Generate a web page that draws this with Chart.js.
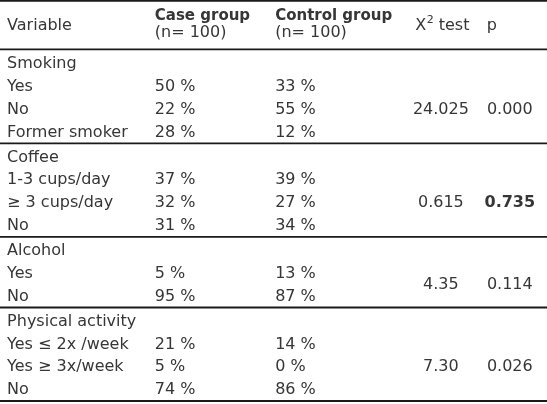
<!DOCTYPE html>
<html>
<head>
<meta charset="utf-8">
<script src="https://cdn.jsdelivr.net/npm/chart.js@4/dist/chart.umd.min.js"></script>
<style>
    html, body { margin: 0; padding: 0; background: #fff; }
    #wrap { width: 547px; height: 404px; }
</style>
</head>
<body>
<div id="wrap"><canvas id="table-chart" width="547" height="404"></canvas></div>
<script>
// ─── Table data ──────────────────────────────────────────────────
const headerVariable = "Variable";
const headerCase = ["Case group", "(n= 100)"];
const headerControl = ["Control group", "(n= 100)"];
const headerChi = ["X", "2", " test"];   // base, superscript, rest
const headerP = "p";

const groupNames = ["Smoking", "Coffee", "Alcohol", "Physical activity"];
const categories = [
    ["Yes", "No", "Former smoker"],
    ["1-3 cups/day", "\u2265 3 cups/day", "No"],
    ["Yes", "No"],
    ["Yes \u2264 2x /week", "Yes \u2265 3x/week", "No"]
];
const caseGroup = [[50, 22, 28], [37, 32, 31], [5, 95], [21, 5, 74]];
const controlGroup = [[33, 55, 12], [39, 27, 34], [13, 87], [14, 0, 86]];
const chiSquare = ["24.025", "0.615", "4.35", "7.30"];
const pValues = ["0.000", "0.735", "0.114", "0.026"];
const pBold = [false, true, false, false];

// ─── Layout (y axis: one text row = one unit) ────────────────────
const ROW_PX = 22.8;
const FIRST_ROW_PX = 64;
const GROUP_GAP = 0.1;
const COL = { variable: 1.3, caseG: 28.3, control: 50.3, chi: 80.6, p: 93.2, chiHead: 75.9, pHead: 89.0 };
const TEXT = "#363636";
const REG = "16px 'DejaVu Sans'";
const BOLD = "bold 15px 'DejaVu Sans'";

// ─── Build cells from the arrays ─────────────────────────────────
const labelCells = [], caseCells = [], controlCells = [], chiCells = [], pCells = [];
const rules = [-2.77, -0.64];
let r = 0;
groupNames.forEach((name, g) => {
    const headY = r + g * GROUP_GAP;
    labelCells.push({ x: COL.variable, y: headY, text: name });
    r++;
    categories[g].forEach((cat, k) => {
        const y = r + g * GROUP_GAP;
        labelCells.push({ x: COL.variable, y, text: cat });
        caseCells.push({ x: COL.caseG, y, text: caseGroup[g][k] + " %" });
        controlCells.push({ x: COL.control, y, text: controlGroup[g][k] + " %" });
        r++;
    });
    const last = r - 1 + g * GROUP_GAP;
    const mid = (headY + 1 + last) / 2;
    chiCells.push({ x: COL.chi, y: mid, text: chiSquare[g] });
    pCells.push({ x: COL.p, y: mid, text: pValues[g], bold: pBold[g] });
    rules.push(last + 0.48);
});

const headerCells = [
    { x: COL.variable, y: -1.67, text: headerVariable, font: REG },
    { x: COL.caseG, y: -2.12, text: headerCase[0], font: BOLD },
    { x: COL.caseG, y: -1.36, text: headerCase[1], font: REG },
    { x: COL.control, y: -2.12, text: headerControl[0], font: BOLD },
    { x: COL.control, y: -1.36, text: headerControl[1], font: REG },
    { x: COL.chiHead, y: -1.67, text: headerChi[0], sup: headerChi[1], rest: headerChi[2], font: REG },
    { x: COL.pHead, y: -1.67, text: headerP, font: REG }
];

function textSet(cells, align) {
    return {
        type: "scatter",
        data: cells.map(c => ({ x: c.x, y: c.y })),
        texts: cells,
        align,
        pointRadius: 0,
        showLine: false
    };
}

const ruleSets = rules.map(v => ({
    type: "scatter",
    data: [{ x: 0, y: v }, { x: 100, y: v }],
    showLine: true,
    borderColor: "#1a1a1a",
    borderWidth: 1.8,
    pointRadius: 0
}));

// ─── Text plugin: writes each cell at its scaled point ───────────
const cellText = {
    id: "cellText",
    afterDatasetsDraw(chart) {
        const ctx = chart.ctx;
        chart.data.datasets.forEach((ds, i) => {
            if (!ds.texts) return;
            const meta = chart.getDatasetMeta(i);
            meta.data.forEach((pt, j) => {
                const c = ds.texts[j];
                ctx.save();
                ctx.font = c.font || (c.bold ? "bold 16px 'DejaVu Sans'" : REG);
                ctx.fillStyle = TEXT;
                ctx.textAlign = ds.align;
                ctx.textBaseline = "middle";
                ctx.fillText(c.text, pt.x, pt.y);
                if (c.sup) {
                    // superscript then the rest of the header
                    let x = pt.x + ctx.measureText(c.text).width + 0.5;
                    ctx.font = "11px 'DejaVu Sans'";
                    ctx.fillText(c.sup, x, pt.y - 6);
                    x += ctx.measureText(c.sup).width;
                    ctx.font = c.font;
                    ctx.fillText(c.rest, x, pt.y);
                }
                ctx.restore();
            });
        });
    }
};

new Chart(document.getElementById("table-chart").getContext("2d"), {
    type: "scatter",
    data: {
        datasets: [
            ...ruleSets,
            textSet(headerCells, "left"),
            textSet(labelCells, "left"),
            textSet(caseCells, "left"),
            textSet(controlCells, "left"),
            textSet(chiCells, "center"),
            textSet(pCells, "center")
        ]
    },
    options: {
        responsive: false,
        animation: false,
        events: [],
        layout: { padding: 0 },
        plugins: { legend: { display: false }, tooltip: { enabled: false } },
        scales: {
            x: { type: "linear", display: false, min: 0, max: 100 },
            y: {
                type: "linear", display: false, reverse: true,
                min: -FIRST_ROW_PX / ROW_PX,
                max: (404 - FIRST_ROW_PX) / ROW_PX
            }
        }
    },
    plugins: [cellText]
});
</script>
</body>
</html>
